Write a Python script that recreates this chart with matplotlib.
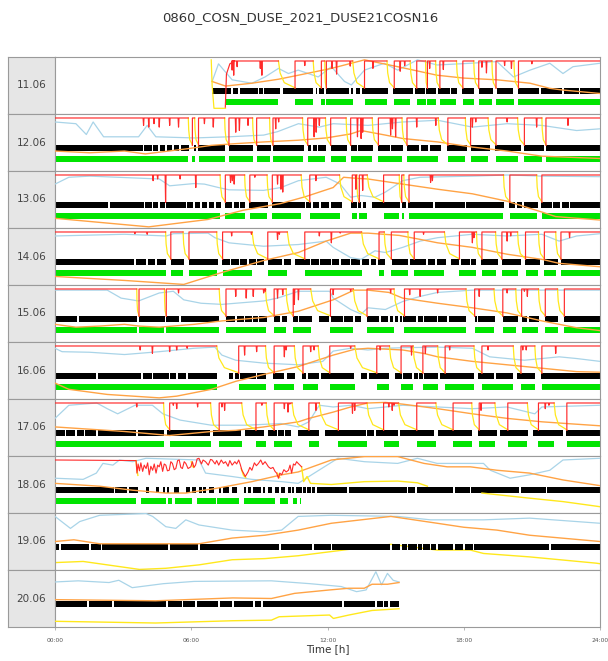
""" daily on/off overview, 0860 COSN DUSE 2021 """
import numpy as np
import matplotlib
matplotlib.use("Agg")
import matplotlib.pyplot as plt

TITLE = "0860_COSN_DUSE_2021_DUSE21COSN16"
DAY_LABELS = ["11.06", "12.06", "13.06", "14.06", "15.06",
              "16.06", "17.06", "18.06", "19.06", "20.06"]
TICK_HOURS = [0, 6, 12, 18, 24]
TICK_LABELS = ["00:00", "06:00", "12:00", "18:00", "24:00"]

# on periods (hours) -> green bar + red line at top, yellow decay in between
on_11 = [(7.5, 9.84), (10.57, 11.37), (11.73, 11.88), (11.95, 13.11), (13.63, 14.62),
         (14.94, 15.64), (15.93, 16.32), (16.4, 16.76), (16.95, 17.68), (17.96, 18.44),
         (18.66, 19.24), (19.42, 20.21), (20.41, 24.0)]
on_12 = [(0.0, 5.87), (6.05, 6.15), (6.32, 7.47), (7.66, 8.7), (8.88, 9.45), (9.6, 10.9),
         (11.13, 11.91), (12.14, 12.82), (13.02, 13.97), (14.24, 15.28), (15.5, 16.88),
         (17.3, 18.07), (18.3, 19.07), (19.42, 20.37), (20.67, 21.44), (21.62, 24.0)]
on_13 = [(0.0, 7.27), (7.5, 8.35), (8.58, 9.34), (9.57, 10.84), (11.22, 12.53),
         (13.09, 13.29), (13.4, 13.75), (14.47, 15.16), (15.27, 15.36), (15.59, 19.75),
         (20.03, 21.21), (21.44, 24.0)]
on_14 = [(0.0, 4.87), (5.1, 5.64), (5.9, 7.12), (7.38, 8.68), (9.37, 10.23), (11.0, 13.5),
         (14.27, 14.5), (14.81, 15.54), (15.82, 17.15), (17.81, 18.56), (18.8, 19.4),
         (19.68, 20.37), (20.72, 21.29), (21.55, 22.05), (22.28, 24.0)]
on_15 = [(0.0, 3.6), (3.7, 4.82), (4.9, 7.23), (7.53, 9.27), (9.65, 10.18), (10.49, 11.26),
         (12.13, 13.14), (13.74, 14.93), (15.39, 18.1), (18.48, 19.33), (19.72, 20.29),
         (20.55, 21.29), (21.59, 22.13), (22.43, 24.0)]
on_16 = [(0.0, 7.12), (8.09, 9.27), (9.65, 10.54), (10.92, 11.59), (12.1, 13.2),
         (14.17, 14.73), (15.24, 15.77), (16.2, 16.85), (17.18, 18.45), (18.8, 20.18),
         (20.52, 21.13), (21.44, 24.0)]
on_17 = [(0.0, 4.78), (5.05, 6.85), (7.23, 8.22), (8.85, 9.3), (9.65, 10.44), (11.18, 11.64),
         (12.48, 13.74), (14.47, 15.13), (15.93, 16.77), (17.53, 18.35), (18.68, 19.37),
         (19.94, 20.8), (21.29, 21.98), (22.54, 24.0)]
green_18 = [(0.0, 3.57), (3.8, 4.9), (4.96, 5.15), (5.3, 6.02), (6.24, 7.07), (7.15, 8.12),
            (8.34, 9.7), (9.91, 10.28), (10.5, 10.65), (10.78, 10.84)]

# short red dips (hour, value)
dips_11 = [(7.8, 0.77), (7.87, 0.68), (8.02, 0.83), (9.04, 0.8), (9.11, 0.68), (11.0, 0.85),
           (12.2, 0.8), (12.4, 0.7), (13.0, 0.84), (14.0, 0.8), (15.2, 0.75), (15.4, 0.85),
           (16.5, 0.8), (17.1, 0.78), (18.8, 0.82), (19.0, 0.72), (19.8, 0.85), (20.1, 0.8),
           (21.0, 0.88)]
dips_12 = [(3.9, 0.8), (4.13, 0.77), (4.36, 0.83), (4.59, 0.77), (5.05, 0.8), (5.44, 0.77),
           (6.58, 0.83), (6.97, 0.77), (7.96, 0.68), (8.12, 0.71), (8.5, 0.8), (9.72, 0.74),
           (9.85, 0.86), (11.41, 0.6), (11.5, 0.68), (11.64, 0.8), (13.32, 0.6), (13.48, 0.57),
           (13.55, 0.68), (14.78, 0.63), (14.86, 0.74), (15.0, 0.6), (15.93, 0.77), (16.77, 0.8),
           (18.38, 0.77), (18.53, 0.86), (19.91, 0.86), (21.21, 0.77), (22.59, 0.8)]
dips_13 = [(4.32, 0.83), (4.52, 0.86), (4.87, 0.45), (5.51, 0.86), (6.2, 0.71), (7.73, 0.8),
           (7.81, 0.83), (7.89, 0.77), (8.8, 0.89), (9.8, 0.77), (9.95, 0.68), (10.03, 0.63),
           (11.49, 0.83), (13.09, 0.6), (13.25, 0.68), (13.4, 0.54), (13.55, 0.66), (16.54, 0.8),
           (16.62, 0.83), (19.91, 0.89), (21.36, 0.86)]
dips_14 = [(3.52, 0.9), (4.06, 0.89), (5.74, 0.83), (5.82, 0.77), (7.78, 0.86), (8.65, 0.89),
           (9.8, 0.8), (9.88, 0.89), (11.64, 0.86), (12.17, 0.74), (12.56, 0.91), (14.62, 0.68),
           (14.7, 0.74), (14.78, 0.77), (16.23, 0.89), (18.38, 0.74), (18.45, 0.83), (19.91, 0.77),
           (20.07, 0.86), (22.66, 0.83)]
dips_15 = [(3.64, 0.77), (4.87, 0.89), (5.44, 0.86), (7.96, 0.8), (8.42, 0.77), (8.73, 0.8),
           (9.19, 0.86), (9.26, 0.89), (9.8, 0.77), (10.03, 0.83), (10.54, 0.66), (10.72, 0.74),
           (12.25, 0.83), (13.02, 0.89), (14.78, 0.86), (15.62, 0.83), (16.08, 0.8), (16.85, 0.86),
           (18.68, 0.8), (19.91, 0.86), (20.67, 0.89), (20.8, 0.8)]
dips_16 = [(3.75, 0.86), (4.29, 0.8), (5.05, 0.83), (5.36, 0.86), (5.82, 0.89), (8.35, 0.77),
           (8.88, 0.83), (10.1, 0.74), (10.18, 0.86), (11.26, 0.83), (11.41, 0.86), (13.02, 0.89),
           (14.32, 0.86), (15.7, 0.77), (15.77, 0.71), (16.31, 0.8), (17.38, 0.86), (19.07, 0.86),
           (20.6, 0.86), (20.75, 0.86), (22.05, 0.8)]
dips_17 = [(3.6, 0.86), (5.21, 0.89), (5.36, 0.83), (6.28, 0.86), (7.35, 0.86), (7.47, 0.8),
           (9.11, 0.89), (10.1, 0.83), (10.26, 0.77), (10.34, 0.91), (11.49, 0.8), (11.64, 0.83),
           (13.1, 0.75), (13.2, 0.8), (14.7, 0.86), (14.85, 0.8), (14.93, 0.89), (18.68, 0.83),
           (18.76, 0.8), (21.59, 0.83), (21.75, 0.89)]

# day 11 starts mid-morning, own shapes for the first rise
red_start_11 = [(7.5, 0.12), (7.55, 0.7), (7.7, 0.88), (7.9, 0.93)]
yellow_start_11 = [(6.88, 0.95), (6.92, 0.5), (7.0, 0.1), (7.51, 0.1)]

# day 18: noisy red in the morning
red_18 = [(0.0, 0.93), (3.57, 0.92), (3.61, 0.7), (3.66, 0.86), (3.72, 0.74), (3.78, 0.88),
          (3.86, 0.73), (3.93, 0.84), (4.01, 0.78), (4.08, 0.88), (4.15, 0.67), (4.22, 0.82),
          (4.3, 0.75), (4.37, 0.86), (4.45, 0.7), (4.52, 0.84), (4.59, 0.81), (4.66, 0.9),
          (4.74, 0.73), (4.81, 0.86), (4.88, 0.84), (4.95, 0.74), (5.03, 0.75), (5.1, 0.9),
          (5.17, 0.87), (5.25, 0.76), (5.32, 0.78), (5.4, 0.92), (5.47, 0.93), (5.54, 0.8),
          (5.61, 0.78), (5.69, 0.9), (5.76, 0.87), (5.86, 0.78), (5.98, 0.81), (6.05, 0.9),
          (6.12, 0.8), (6.19, 0.84), (6.26, 0.95), (6.34, 0.96), (6.45, 0.86), (6.52, 0.93),
          (6.63, 0.9), (6.75, 0.84), (6.85, 0.94), (6.92, 0.93), (7.05, 0.86), (7.12, 0.92),
          (7.21, 0.84), (7.32, 0.93), (7.42, 0.87), (7.51, 0.9), (7.62, 0.82), (7.7, 0.92),
          (7.8, 0.84), (7.92, 0.9), (8.0, 0.86), (8.09, 0.93), (8.16, 0.85), (8.23, 0.75),
          (8.3, 0.7), (8.38, 0.64), (8.5, 0.72), (8.58, 0.8), (8.67, 0.75), (8.78, 0.88),
          (8.87, 0.83), (8.96, 0.87), (9.06, 0.93), (9.15, 0.85), (9.25, 0.9), (9.32, 0.86),
          (9.4, 0.81), (9.5, 0.78), (9.6, 0.8), (9.69, 0.73), (9.76, 0.7), (9.84, 0.61),
          (9.9, 0.7), (9.98, 0.67), (10.08, 0.76), (10.18, 0.72), (10.28, 0.75), (10.35, 0.84),
          (10.42, 0.7), (10.5, 0.86), (10.57, 0.84), (10.64, 0.9), (10.71, 0.87), (10.86, 0.81)]
yellow_18 = [[(3.57, 0.92), (3.6, 0.78), (3.65, 0.66)],
             [(6.0, 0.9), (6.05, 0.82), (6.1, 0.8)],
             [(8.2, 0.78), (8.3, 0.66), (8.4, 0.62)],
             [(9.8, 0.7), (9.9, 0.62)],
             [(10.86, 0.81), (10.95, 0.55), (11.1, 0.64), (11.25, 0.52), (12.17, 0.5),
              (13.63, 0.55), (15.09, 0.56), (15.96, 0.53), (16.4, 0.47)],
             [(18.8, 0.35), (20.9, 0.26), (22.37, 0.2), (23.83, 0.12), (24.0, 0.11)]]
yellow_19 = [(0.0, 0.13), (1.24, 0.15), (3.72, 0.01), (4.88, 0.03), (6.34, 0.09), (7.8, 0.18),
             (9.25, 0.2), (10.71, 0.25), (12.9, 0.36), (14.79, 0.45), (16.83, 0.35),
             (18.29, 0.35), (18.87, 0.29), (20.9, 0.23), (23.83, 0.12), (24.0, 0.11)]
yellow_20 = [(0.0, 0.1), (4.43, 0.07), (7.83, 0.11), (9.53, 0.12), (9.87, 0.18), (12.09, 0.21),
             (12.26, 0.15), (12.94, 0.21), (13.96, 0.29), (15.15, 0.32)]

# light blue line (hour, value)
blue_11 = [(6.92, 0.57), (7.2, 0.88), (7.8, 0.6), (8.67, 0.54), (9.25, 0.65), (9.84, 0.8),
           (10.28, 0.71), (10.71, 0.77), (11.59, 0.65), (12.17, 0.83), (12.75, 0.57), (13.05, 0.51),
           (13.63, 0.77), (14.5, 0.89), (15.09, 0.77), (15.96, 0.95), (16.83, 0.86), (18.29, 0.89),
           (19.46, 0.92), (20.19, 0.65), (20.92, 0.77), (21.79, 0.89), (22.37, 0.71), (22.81, 0.83),
           (24.0, 0.89)]
blue_12 = [(0.0, 0.86), (0.92, 0.83), (1.38, 0.64), (1.68, 0.86), (2.14, 0.6), (3.68, 0.6),
           (4.06, 0.8), (4.44, 0.6), (6.13, 0.58), (7.66, 0.6), (9.19, 0.63), (9.8, 0.69),
           (10.72, 0.83), (11.64, 0.77), (12.25, 0.83), (13.78, 0.8), (15.31, 0.86), (16.85, 0.89),
           (18.38, 0.77), (19.91, 0.83), (21.44, 0.8), (22.97, 0.71), (24.0, 0.74)]
blue_13 = [(0.0, 0.77), (0.61, 0.89), (1.53, 0.91), (4.59, 0.86), (5.05, 0.74), (6.13, 0.78),
           (6.58, 0.77), (7.2, 0.71), (7.66, 0.67), (9.19, 0.66), (9.95, 0.71), (10.72, 0.83),
           (11.94, 0.89), (12.56, 0.77), (13.02, 0.54), (13.48, 0.57), (14.09, 0.54), (14.55, 0.63),
           (15.31, 0.83), (16.08, 0.89), (18.38, 0.91), (19.91, 0.93), (21.44, 0.91), (24.0, 0.9)]
blue_14 = [(0.0, 0.86), (3.06, 0.89), (4.9, 0.86), (5.21, 0.9), (6.74, 0.91), (7.04, 0.83),
           (7.66, 0.74), (9.19, 0.68), (10.72, 0.71), (11.94, 0.77), (12.25, 0.66), (13.02, 0.48),
           (13.48, 0.45), (14.09, 0.6), (14.55, 0.57), (15.31, 0.66), (16.08, 0.77), (16.85, 0.83),
           (18.38, 0.89), (19.91, 0.86), (21.44, 0.89), (22.2, 0.77), (22.97, 0.86), (24.0, 0.9)]
blue_15 = [(0.0, 0.91), (2.3, 0.91), (2.91, 0.77), (3.68, 0.72), (4.59, 0.86), (5.21, 0.89),
           (5.67, 0.74), (6.43, 0.68), (7.35, 0.66), (9.19, 0.72), (9.8, 0.77), (10.72, 0.89),
           (12.1, 0.89), (12.25, 0.77), (13.02, 0.57), (13.48, 0.49), (13.78, 0.6), (14.55, 0.57),
           (15.31, 0.71), (16.08, 0.8), (16.85, 0.87), (18.38, 0.91), (24.0, 0.91)]
blue_16 = [(0.0, 0.89), (0.31, 0.83), (1.53, 0.82), (3.06, 0.78), (4.59, 0.83), (6.13, 0.89),
           (7.04, 0.91), (7.35, 0.77), (7.96, 0.68), (9.19, 0.63), (10.72, 0.6), (11.79, 0.66),
           (12.25, 0.84), (13.02, 0.89), (13.78, 0.86), (14.55, 0.89), (15.31, 0.9), (16.85, 0.91),
           (18.38, 0.89), (19.14, 0.74), (19.91, 0.71), (20.67, 0.68), (21.44, 0.71), (22.2, 0.74),
           (22.97, 0.71), (24.0, 0.66)]
blue_17 = [(0.0, 0.66), (0.61, 0.89), (1.84, 0.93), (2.3, 0.83), (2.76, 0.74), (3.52, 0.89),
           (4.29, 0.89), (4.75, 0.74), (5.51, 0.63), (6.89, 0.54), (8.42, 0.54), (9.95, 0.57),
           (10.72, 0.51), (11.18, 0.6), (11.64, 0.89), (12.25, 0.86), (13.02, 0.89), (13.78, 0.83),
           (14.55, 0.86), (15.31, 0.89), (16.85, 0.86), (18.38, 0.83), (19.91, 0.86), (21.13, 0.74),
           (21.44, 0.86), (24.0, 0.89)]
blue_18 = [(0.0, 0.61), (1.24, 0.59), (1.82, 0.7), (2.11, 0.87), (2.55, 0.84), (2.84, 0.93),
           (3.42, 0.9), (4.01, 0.96), (6.34, 0.93), (6.63, 0.7), (7.8, 0.64), (8.67, 0.59),
           (9.98, 0.55), (10.71, 0.52), (11.3, 0.67), (12.46, 0.96), (13.63, 0.9), (15.09, 0.87),
           (15.96, 0.96), (16.83, 0.87), (18.87, 0.87), (19.17, 0.75), (20.04, 0.61), (20.9, 0.67),
           (21.79, 0.75), (22.37, 0.93), (24.0, 0.96)]
blue_19 = [(0.0, 0.94), (0.68, 0.73), (1.09, 0.85), (1.97, 0.96), (4.01, 0.99), (4.3, 0.94),
           (4.88, 0.76), (5.32, 0.73), (5.76, 0.88), (6.34, 0.79), (7.8, 0.7), (9.25, 0.67),
           (9.98, 0.7), (10.71, 0.94), (12.17, 0.96), (15.09, 0.94), (16.54, 0.88), (18.87, 0.88),
           (20.9, 0.91), (24.0, 0.82)]
blue_20 = [(0.0, 0.79), (1.02, 0.81), (2.38, 0.78), (2.81, 0.82), (3.4, 0.69), (4.77, 0.76),
           (6.13, 0.8), (9.53, 0.81), (11.23, 0.76), (12.6, 0.71), (13.28, 0.62), (13.7, 0.65),
           (14.13, 0.97), (14.38, 0.74), (14.64, 0.94), (14.89, 0.82), (15.15, 0.79)]

# orange line (hour, value)
orange_11 = [(6.92, 0.57), (7.51, 0.49), (8.67, 0.54), (9.84, 0.61), (10.71, 0.68), (12.17, 0.8),
             (13.63, 0.95), (15.09, 0.83), (16.83, 0.68), (18.0, 0.63), (19.46, 0.6), (20.92, 0.54),
             (21.79, 0.45), (22.37, 0.42), (24.0, 0.36)]
orange_12 = [(0.0, 0.35), (1.53, 0.32), (3.06, 0.35), (3.98, 0.3), (5.82, 0.39), (6.89, 0.45),
             (7.96, 0.48), (9.19, 0.51), (10.72, 0.54), (11.94, 0.58), (13.02, 0.65), (13.48, 0.71),
             (14.55, 0.63), (15.31, 0.57), (16.85, 0.51), (18.38, 0.42), (19.91, 0.35), (21.44, 0.26),
             (24.0, 0.22)]
orange_13 = [(0.0, 0.17), (4.13, 0.02), (6.74, 0.15), (8.27, 0.31), (9.95, 0.43), (11.03, 0.55),
             (12.25, 0.71), (12.71, 0.89), (13.32, 0.87), (13.78, 0.86), (15.31, 0.77), (16.85, 0.68),
             (18.38, 0.6), (19.91, 0.47), (21.44, 0.28), (22.05, 0.2), (24.0, 0.14)]
orange_14 = [(0.0, 0.15), (3.06, 0.08), (5.67, 0.01), (7.35, 0.22), (9.19, 0.43), (10.72, 0.57),
             (11.94, 0.77), (13.02, 0.91), (13.78, 0.91), (15.16, 0.87), (16.08, 0.8), (16.85, 0.74),
             (18.38, 0.66), (19.91, 0.54), (21.44, 0.45), (22.2, 0.38), (24.0, 0.32)]
orange_15 = [(0.0, 0.31), (0.92, 0.26), (1.99, 0.28), (3.06, 0.31), (3.68, 0.28), (4.59, 0.26),
             (6.13, 0.31), (7.35, 0.37), (9.19, 0.43), (10.72, 0.54), (12.25, 0.74), (13.17, 0.91),
             (13.78, 0.91), (14.7, 0.87), (15.31, 0.77), (16.85, 0.68), (18.38, 0.6), (19.91, 0.51),
             (21.44, 0.37), (22.97, 0.25), (24.0, 0.2)]
orange_16 = [(0.0, 0.28), (0.61, 0.17), (2.3, 0.08), (4.59, 0.02), (5.36, 0.05), (6.89, 0.17),
             (7.96, 0.31), (9.19, 0.43), (10.72, 0.57), (12.25, 0.77), (13.17, 0.87), (13.78, 0.89),
             (15.31, 0.86), (16.23, 0.8), (16.85, 0.74), (18.38, 0.66), (19.91, 0.6), (21.44, 0.54),
             (22.97, 0.48), (24.0, 0.47)]
orange_17 = [(0.0, 0.51), (3.06, 0.43), (5.05, 0.36), (6.89, 0.43), (7.96, 0.45), (9.19, 0.51),
             (10.72, 0.6), (11.18, 0.66), (12.25, 0.77), (13.02, 0.86), (13.78, 0.93), (14.55, 0.94),
             (15.31, 0.91), (16.85, 0.83), (18.38, 0.74), (19.91, 0.66), (21.44, 0.6), (22.51, 0.57),
             (24.0, 0.53)]
orange_18 = [(0.0, 0.52), (1.97, 0.47), (3.42, 0.4), (4.88, 0.35), (5.76, 0.35), (7.07, 0.43),
             (8.67, 0.55), (9.98, 0.67), (10.71, 0.72), (12.17, 0.93), (13.63, 0.99), (15.09, 0.99),
             (16.25, 0.87), (17.27, 0.81), (18.29, 0.81), (19.46, 0.75), (20.9, 0.7), (22.37, 0.58),
             (24.0, 0.48)]
orange_19 = [(0.0, 0.5), (0.83, 0.53), (1.97, 0.46), (6.34, 0.46), (7.8, 0.56), (9.25, 0.61),
             (10.71, 0.7), (12.17, 0.82), (14.79, 0.94), (16.83, 0.82), (18.0, 0.75), (19.46, 0.7),
             (20.9, 0.61), (24.0, 0.5)]
orange_20 = [(0.0, 0.48), (4.43, 0.46), (7.83, 0.51), (9.53, 0.5), (10.55, 0.59), (12.09, 0.65),
             (12.94, 0.68), (13.62, 0.68), (13.96, 0.75), (14.64, 0.75), (15.15, 0.78)]

# black bar: (start, end) and white gaps (single hour = thin gap)
black_span = [(6.92, 24.0), (0.0, 24.0), (0.0, 24.0), (0.0, 24.0), (0.0, 24.0),
              (0.0, 24.0), (0.0, 24.0), (0.0, 24.0), (0.0, 24.0), (0.0, 15.15)]
gaps_11 = [7.8, 8.09, 8.97, 9.18, (9.9, 10.06), (11.37, 11.5), 11.59, 11.88, 13.0, (13.11, 13.26),
           13.48, (14.65, 14.87), 15.81, 16.32, 16.83, 17.41, (17.7, 17.93), (18.43, 18.65),
           (19.31, 19.46), (20.19, 20.41), 21.35, 22.37, 23.1]
gaps_12 = [3.9, 4.29, 4.59, 4.9, 5.2, 5.51, (5.9, 6.1), 6.25, (7.5, 7.66), (8.73, 8.88), (9.5, 9.6),
           (10.95, 11.13), 11.33, 11.56, (11.94, 12.14), (12.86, 13.02), 13.32, (14.01, 14.24),
           14.78, (15.31, 15.5), 16.08, 16.46, (17.0, 17.27), (18.15, 18.3), (19.14, 19.37),
           (20.52, 20.67), (21.52, 21.62)]
gaps_13 = [2.37, 3.95, 4.29, 4.59, 4.87, 5.79, 6.13, 6.43, 6.74, 7.04, (7.32, 7.5), 7.84, 8.12,
           (8.35, 8.55), (9.37, 9.57), 11.03, 11.33, 11.67, 12.1, (12.63, 13.05), 13.32, 13.51,
           (13.7, 13.94), 15.24, 15.5, 16.69, 18.07, (19.79, 19.98), 20.29, 20.6, (21.26, 21.41),
           21.9, 22.28, 22.66]
gaps_14 = [3.52, 4.06, 4.44, (4.87, 5.1), (5.7, 5.9), (7.17, 7.35), 7.73, 8.12, 8.5, 8.88,
           (9.19, 9.37), (9.98, 10.1), (10.41, 10.57), 11.26, 11.64, 12.17, 12.56, 13.02, 13.48,
           13.86, 14.17, (14.52, 14.82), (15.54, 15.62), 16.39, 16.77, (17.23, 17.46), 17.84, 18.3,
           (18.56, 18.76), (19.53, 19.68), (20.52, 20.7), (21.36, 21.52), (22.13, 22.28)]
gaps_15 = [1.0, (3.6, 3.7), 4.87, 5.51, (7.2, 7.53), 7.96, 8.35, 8.7, 8.96, (9.34, 9.65), 9.95,
           (10.23, 10.49), 10.72, (11.33, 11.64), 12.1, 12.71, 13.17, (13.48, 13.74), 14.32, 14.7,
           14.93, 15.16, 15.31, 15.93, 16.23, 16.85, 17.3, (18.1, 18.48), 18.61, (19.37, 19.72),
           (20.37, 20.55), 20.83, (21.32, 21.59), (22.17, 22.43)]
gaps_16 = [1.84, 3.83, 4.29, 5.05, 5.36, 5.82, (7.12, 7.66), 7.89, 8.12, 8.88, (9.31, 9.62),
           (10.1, 10.23), (10.57, 10.87), 11.1, (11.61, 11.72), (13.17, 13.48), 13.78, (14.7, 14.98),
           15.31, 15.77, 16.0, 16.23, 16.92, (18.45, 18.61), 19.37, (20.18, 20.34), (21.13, 21.41)]
gaps_17 = [0.46, 0.92, 1.3, 1.84, 3.6, (4.78, 4.93), (6.81, 6.97), (8.19, 8.35), (9.19, 9.37), 9.8,
           10.1, (10.41, 10.72), (11.64, 11.87), 13.71, 14.09, 15.16, (16.69, 16.85), (18.38, 18.61),
           (19.45, 19.6), (20.83, 21.06), (22.36, 22.51)]
gaps_18 = [2.62, 3.21, (3.64, 4.01), (4.15, 4.45), (4.59, 4.74), 4.88, (5.03, 5.25), (5.47, 5.76),
           5.98, (6.19, 6.34), 6.49, (6.63, 6.78), (7.0, 7.21), 7.36, (7.65, 7.8), (8.02, 8.31), 8.45,
           8.67, 9.11, (9.25, 9.4), (9.55, 9.69), 9.91, (10.13, 10.28), 10.42, 10.57, (10.86, 10.93),
           11.08, 11.3, 11.5, 12.9, 15.52, 15.89, 17.56, 18.29, 20.48, 21.64]
gaps_19 = [0.22, 1.53, 2.04, 5.03, 6.34, 9.91, 11.37, 12.17, 14.79, 15.23, 15.52, 15.96, 16.18,
           16.54, 16.83, 17.56, 18.0, 18.43, 21.79]
gaps_20 = [1.45, 2.55, 4.94, 5.62, 6.21, 7.23, 7.83, 8.77, 9.11, 12.68, 14.13, 14.47, 14.72]

ON = [on_11, on_12, on_13, on_14, on_15, on_16, on_17, None, None, None]
DIPS = [dips_11, dips_12, dips_13, dips_14, dips_15, dips_16, dips_17, [], [], []]
BLUE = [blue_11, blue_12, blue_13, blue_14, blue_15, blue_16, blue_17, blue_18, blue_19, blue_20]
ORANGE = [orange_11, orange_12, orange_13, orange_14, orange_15, orange_16, orange_17,
          orange_18, orange_19, orange_20]
GAPS = [gaps_11, gaps_12, gaps_13, gaps_14, gaps_15, gaps_16, gaps_17, gaps_18, gaps_19, gaps_20]

RED = "#ff2b2b"
YELLOW = "#ffe81c"
ORANGE_C = "#ffa345"
BLUE_C = "#a9d4e8"
GREEN = "#00e400"
TOP = 0.93
LOW = 0.45


def xy(points):
    arr = np.array(points, dtype=float)
    return arr[:, 0], arr[:, 1]


def red_path(on, dips, first=None):
    """ red at top during on periods, rising from the yellow end """
    xs, ys = [], []
    for i, (s, e) in enumerate(on):
        if i == 0 and first is not None:
            seg = list(first)
        elif s > 0:
            seg = [(s, LOW), (s, TOP)]
        else:
            seg = [(s, TOP)]
        for h, d in sorted(dips):
            if s < h < e:
                seg += [(h - 0.02, TOP), (h, d), (h + 0.02, TOP)]
        seg.append((e, TOP))
        xs += [p[0] for p in seg] + [np.nan]
        ys += [p[1] for p in seg] + [np.nan]
    return xs, ys


def yellow_path(on):
    """ decay between two on periods """
    xs, ys = [], []
    for (s0, e0), (s1, e1) in zip(on[:-1], on[1:]):
        g = s1 - e0
        xs += [e0, e0 + 0.1 * g, e0 + 0.35 * g, s1, np.nan]
        ys += [TOP, 0.72, 0.55, LOW + 0.01, np.nan]
    return xs, ys


def black_segments(span, gaps):
    cuts = []
    for g in gaps:
        if isinstance(g, tuple):
            cuts.append(g)
        else:
            cuts.append((g - 0.035, g + 0.035))
    cuts.sort()
    segs = []
    pos = span[0]
    for a, b in cuts:
        if a > pos:
            segs.append((pos, a - pos))
        pos = max(pos, b)
    if span[1] > pos:
        segs.append((pos, span[1] - pos))
    return segs


def main():
    fig = plt.figure(figsize=(6.08, 6.61), dpi=100)
    W, H = 608.0, 661.0
    top_px, panel_h = 57.0, 57.0
    x0, x1, lab0 = 55.0, 600.0, 8.0
    edge = "#9a9a9a"

    fig.text(300 / W, 1 - 18 / H, TITLE, ha="center", va="center", fontsize=9.5, color="#333333")

    for i, day in enumerate(DAY_LABELS):
        bottom = 1 - (top_px + panel_h * (i + 1)) / H
        lab = fig.add_axes([lab0 / W, bottom, (x0 - lab0) / W, panel_h / H])
        lab.set_facecolor("#e6e6e6")
        lab.set_xticks([])
        lab.set_yticks([])
        for sp in lab.spines.values():
            sp.set_color(edge)
            sp.set_linewidth(0.8)
        lab.text(0.5, 0.5, day, ha="center", va="center", fontsize=7.5, color="#444444",
                 transform=lab.transAxes)

        ax = fig.add_axes([x0 / W, bottom, (x1 - x0) / W, panel_h / H])
        ax.set_xlim(0, 24)
        ax.set_ylim(0, 1)
        ax.set_yticks([])
        for sp in ax.spines.values():
            sp.set_color(edge)
            sp.set_linewidth(0.8)

        # bars
        ax.broken_barh(black_segments(black_span[i], GAPS[i]), (0.355, 0.095),
                       facecolors="black", zorder=2)
        green = green_18 if ON[i] is None else ON[i]
        if i < 8:
            ax.broken_barh([(s, e - s) for s, e in green], (0.155, 0.105),
                           facecolors=GREEN, zorder=2)

        # lines
        bx, by = xy(BLUE[i])
        ax.plot(bx, by, color=BLUE_C, lw=0.9, zorder=3)
        ox, oy = xy(ORANGE[i])
        ax.plot(ox, oy, color=ORANGE_C, lw=1.0, zorder=3)

        if ON[i] is not None:
            yx, yy = yellow_path(ON[i])
            ax.plot(yx, yy, color=YELLOW, lw=0.9, zorder=4)
            first = red_start_11 if i == 0 else None
            rx, ry = red_path(ON[i], DIPS[i], first)
            ax.plot(rx, ry, color=RED, lw=0.85, zorder=5)
            if i == 0:
                sx, sy = xy(yellow_start_11)
                ax.plot(sx, sy, color=YELLOW, lw=0.9, zorder=4)
        elif i == 7:
            for part in yellow_18:
                px, py = xy(part)
                ax.plot(px, py, color=YELLOW, lw=1.0, zorder=4)
            rx, ry = xy(red_18)
            ax.plot(rx, ry, color=RED, lw=0.8, zorder=5)
        elif i == 8:
            px, py = xy(yellow_19)
            ax.plot(px, py, color=YELLOW, lw=1.0, zorder=1)
        else:
            px, py = xy(yellow_20)
            ax.plot(px, py, color=YELLOW, lw=1.0, zorder=3)

        ax.set_xticks(TICK_HOURS)
        if i == len(DAY_LABELS) - 1:
            ax.set_xticklabels(TICK_LABELS, fontsize=4.3, color="#555555")
            ax.tick_params(axis="x", length=2, width=0.5, color=edge, pad=6)
            ax.set_xlabel("Time [h]", fontsize=7.5, color="#333333", labelpad=1)
        else:
            ax.set_xticklabels([])
            ax.tick_params(axis="x", length=0)

    fig.savefig("out.png", dpi=100)


if __name__ == "__main__":
    main()
